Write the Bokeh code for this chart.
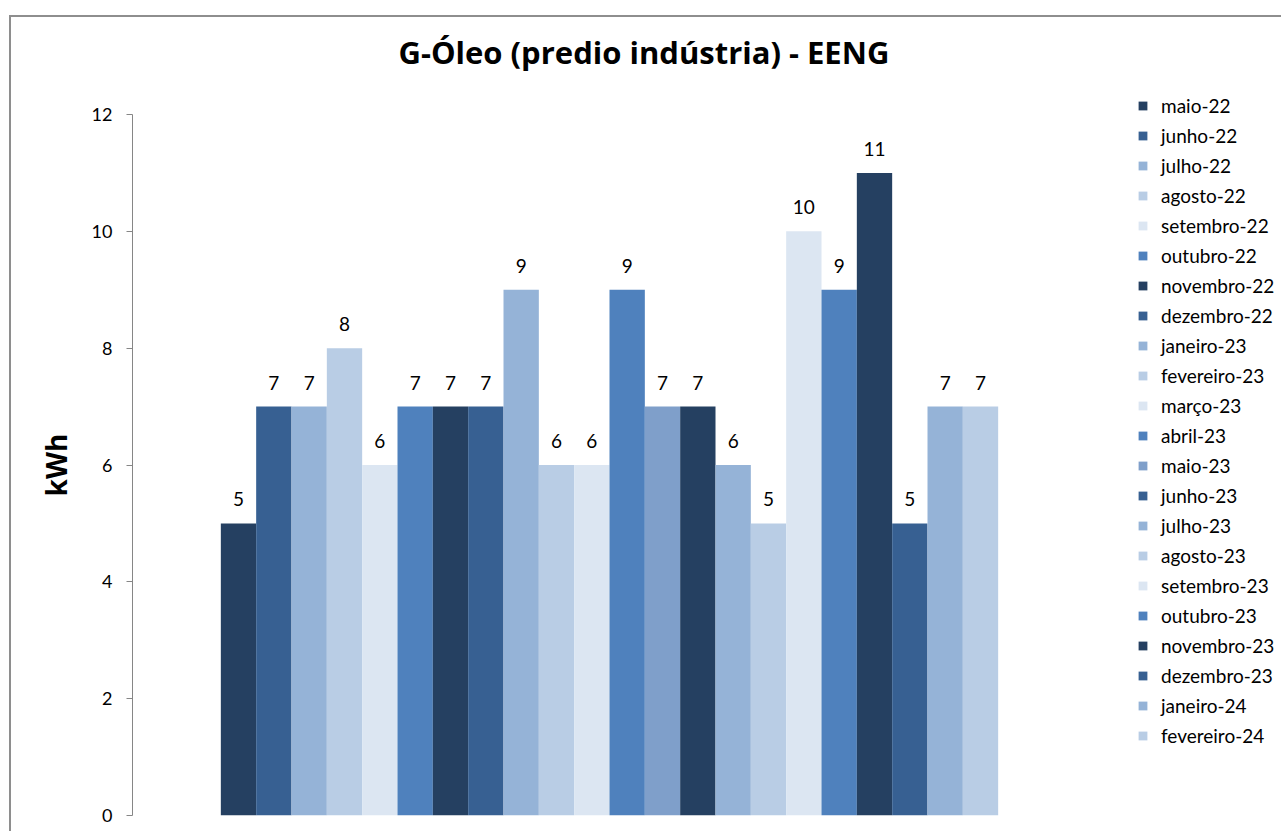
from bokeh.plotting import figure
from bokeh.models import ColumnDataSource, Legend, LegendItem, Range1d, FixedTicker, Title
from bokeh.core.properties import value
from bokeh.embed import file_html
from bokeh.resources import INLINE

title_text = "G-Óleo (predio indústria) - EENG"
y_label = "kWh"
months = ["maio-22", "junho-22", "julho-22", "agosto-22", "setembro-22", "outubro-22",
          "novembro-22", "dezembro-22", "janeiro-23", "fevereiro-23", "março-23", "abril-23",
          "maio-23", "junho-23", "julho-23", "agosto-23", "setembro-23", "outubro-23",
          "novembro-23", "dezembro-23", "janeiro-24", "fevereiro-24"]
values = [5, 7, 7, 8, 6, 7, 7, 7, 9, 6, 6, 9, 7, 7, 6, 5, 10, 9, 11, 5, 7, 7]
bar_colors = ["#254061", "#376092", "#95B3D7", "#B9CDE5", "#DCE6F2", "#4F81BD",
              "#254061", "#376092", "#95B3D7", "#B9CDE5", "#DCE6F2", "#4F81BD",
              "#7F9FCA", "#254061", "#95B3D7", "#B9CDE5", "#DCE6F2", "#4F81BD",
              "#254061", "#376092", "#95B3D7", "#B9CDE5"]
legend_colors = ["#254061", "#376092", "#95B3D7", "#B9CDE5", "#DCE6F2", "#4F81BD",
                 "#254061", "#376092", "#95B3D7", "#B9CDE5", "#DCE6F2", "#4F81BD",
                 "#7F9FCA", "#376092", "#95B3D7", "#B9CDE5", "#DCE6F2", "#4F81BD",
                 "#254061", "#376092", "#95B3D7", "#B9CDE5"]
y_ticks = [0, 2, 4, 6, 8, 10, 12]

FONT = "Lato"
side_pad = 2.5
xs = [i + side_pad + 0.5 for i in range(len(months))]

src = ColumnDataSource(dict(x=xs, top=values, color=bar_colors,
                            label=[str(v) for v in values]))

p = figure(output_backend="svg", toolbar_location=None,
           frame_width=954, frame_height=701,
           x_range=Range1d(0, len(months) + 2 * side_pad),
           y_range=Range1d(0, 12),
           min_border_left=121, min_border_top=97, min_border_right=185,
           min_border_bottom=16)
p.styles = {"border-left": "2px solid #8E8E8E", "border-top": "2px solid #8E8E8E",
            "margin-top": "15px", "margin-left": "9px"}
p.outline_line_color = None
p.xgrid.visible = False
p.ygrid.visible = False
p.xaxis.visible = False

# main title (outer)
p.title.text = title_text
p.title.text_font = "Open Sans"
p.title.text_font_style = "bold"
p.title.text_font_size = "31px"
p.title.align = "left"
p.title.offset = 266
p.title.standoff = 0
p.title.text_color = "#000000"

# spacer title (nearest the frame)
spacer = Title(text=" ", text_font_size="1px", standoff=39)
p.add_layout(spacer, "above")

ya = p.yaxis[0]
ya.ticker = FixedTicker(ticks=y_ticks)
ya.axis_line_color = "#868686"
ya.major_tick_line_color = "#868686"
ya.major_tick_out = 6
ya.major_tick_in = 0
ya.minor_tick_line_color = None
ya.major_label_standoff = 14
ya.major_label_text_font = FONT
ya.major_label_text_font_size = "18px"
ya.major_label_text_color = "#000000"
ya.axis_label = y_label
ya.axis_label_text_font = "Open Sans"
ya.axis_label_text_font_style = "bold"
ya.axis_label_text_font_size = "28px"
ya.axis_label_text_color = "#000000"
ya.axis_label_standoff = 14

p.vbar(x="x", top="top", width=1.0, bottom=0, source=src,
       fill_color="color", line_color=None)
p.text(x="x", y="top", text="label", source=src, text_align="center",
       text_baseline="alphabetic", y_offset=-24, text_font_size="19px",
       text_font=value(FONT), text_color="#000000")

items = []
for m, c in zip(months, legend_colors):
    r = p.vbar(x=[float("nan")], top=[float("nan")], width=1.0,
               fill_color=c, line_color=None)
    items.append(LegendItem(label=m, renderers=[r]))

legend = Legend(items=items, location=(51, 65), padding=0, margin=0,
                spacing=0, label_height=30, glyph_width=11, glyph_height=11,
                label_standoff=13, label_text_font=FONT, label_text_font_size="19px",
                label_text_color="#000000", border_line_color=None,
                background_fill_alpha=0)
p.add_layout(legend, "right")

open("out.html", "w").write(file_html(p, INLINE))
